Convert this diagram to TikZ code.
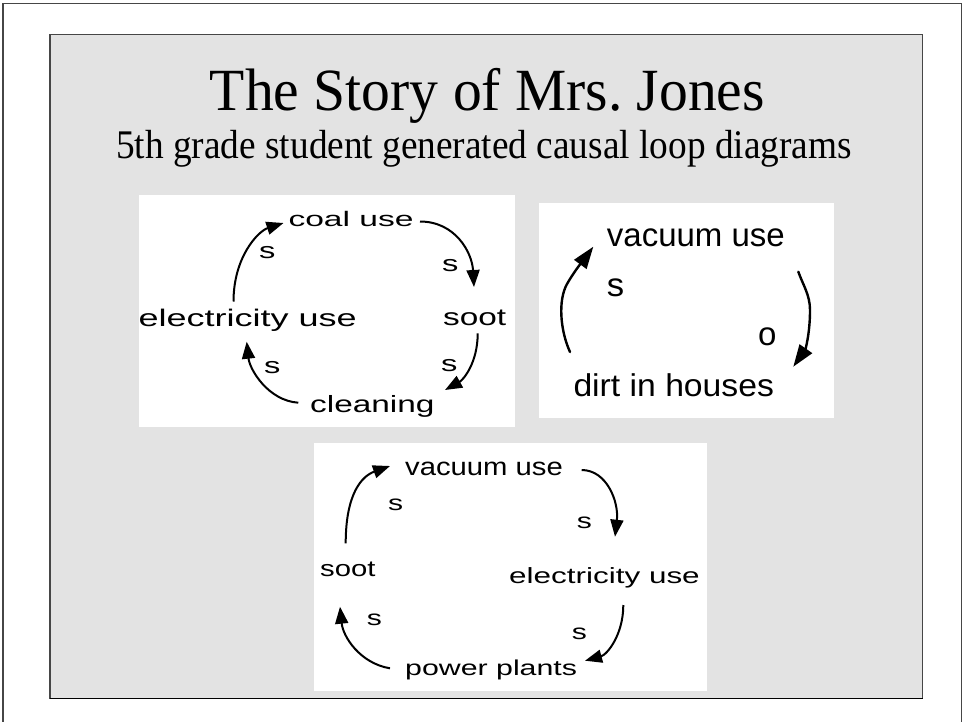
\documentclass[tikz,border=0pt]{standalone}
\usepackage{fontspec}
\usepackage{graphicx}
\setmainfont{Liberation Serif}
% sans face for the three hand-made loop diagrams
\newfontfamily\loopfont{Liberation Sans}
\usetikzlibrary{arrows.meta}
\definecolor{panelgray}{RGB}{227,227,227}
\definecolor{edgegray}{RGB}{70,70,70}
\newcommand\lsize[1]{\fontsize{#1}{#1}\selectfont}
% horizontally widened label text
\newcommand\widen[2]{\scalebox{#1}[1]{#2}}

\begin{document}
\begin{tikzpicture}[x=1pt,y=-1pt,
  lbl/.style={inner sep=0pt, anchor=base west},
  ttl/.style={inner sep=0pt, anchor=base},
  board/.style={fill=white, draw=none},
  linkA/.style={line width=2pt, -{Triangle[length=17pt,width=13pt]}},
  linkB/.style={line width=2.4pt, line cap=round, -{Triangle[length=22pt,width=15pt]}},
  linkC/.style={line width=2pt, -{Triangle[length=17pt,width=13pt]}}]

\useasboundingbox (0,0) rectangle (963,721);

% page frame
\draw[edgegray, line width=1.5pt] (3,725) -- (3,3.5) -- (961.5,3.5) -- (961.5,725);

% slide panel
\fill[panelgray] (50,34.5) rectangle (922.5,698.5);
\draw[edgegray, line width=1.6pt] (50,34.5) rectangle (922.5,698.5);
\draw[black, line width=1pt] (50,698.8) -- (922.5,698.8);

% titles
\node[ttl, font=\lsize{57.6}] (title) at (487.4,110) {\scalebox{1}[1.04]{The Story of Mrs.\ Jones}};
\node[ttl, font=\lsize{37.3}] (subtitle) at (484,158.3) {\scalebox{1}[1.09]{5th grade student generated causal loop diagrams}};

% white boards
\fill[board] (138.7,194.7) rectangle (515,427);
\fill[board] (539,202.7) rectangle (834.3,418);
\fill[board] (314,442.7) rectangle (707,691);

% ---------- loop 1 ----------
\node[lbl, font=\loopfont\lsize{21}]   (coal)  at (288.3,226)   {\widen{1.6}{coal use}};
\node[lbl, font=\loopfont\lsize{24}]   (elec1) at (138.5,326.7) {\widen{1.5}{electricity use}};
\node[lbl, font=\loopfont\lsize{24}]   (soot1) at (443,325)     {\widen{1.39}{soot}};
\node[lbl, font=\loopfont\lsize{23.5}] (clean) at (310,412.7)   {\widen{1.42}{cleaning}};
\node[lbl, font=\loopfont\lsize{22.5}] (s1a) at (259,258.3) {\widen{1.45}{s}};
\node[lbl, font=\loopfont\lsize{22.5}] (s1b) at (442,271.7) {\widen{1.45}{s}};
\node[lbl, font=\loopfont\lsize{22.5}] (s1c) at (264,373)   {\widen{1.45}{s}};
\node[lbl, font=\loopfont\lsize{22.5}] (s1d) at (441,371.7) {\widen{1.45}{s}};

\coordinate (a1s) at (233.5,301.5); \coordinate (a1e) at (283.5,223);
\coordinate (a2s) at (420,221.5);   \coordinate (a2e) at (474,287);
\coordinate (a3s) at (477.7,333.3); \coordinate (a3e) at (445,390);
\coordinate (a4s) at (298.3,402.7); \coordinate (a4e) at (246.7,341.7);

\draw[linkA] (a1s) .. controls +(0,-45) and +(-25,8) .. (a1e);
\draw[linkA] (a2s) .. controls +(35,0) and +(-2,-35) .. (a2e);
\draw[linkA] (a3s) .. controls +(0,30) and +(18,-10) .. (a3e);
\draw[linkA] (a4s) .. controls +(-30,-2) and +(3,28) .. (a4e);

% ---------- loop 2 ----------
\node[lbl, font=\loopfont\lsize{33}]   (vac2) at (606.7,246.7) {vacuum use};
\node[lbl, font=\loopfont\lsize{31.5}] (dirt) at (573.3,396.7) {\widen{1.07}{dirt in houses}};
\node[lbl, font=\loopfont\lsize{33}]   (s2) at (606.7,296.7) {\widen{1.05}{s}};
\node[lbl, font=\loopfont\lsize{33}]   (o2) at (758,345) {o};

\coordinate (b1s) at (570,352);   \coordinate (b1m) at (567,284);   \coordinate (b1e) at (593.3,246.7);
\coordinate (b2s) at (798.3,271.7); \coordinate (b2m) at (810,310); \coordinate (b2e) at (793.3,366.7);

\draw[linkB] (b1s) .. controls (560,330) and (558,300) .. (b1m)
                   .. controls (575,270) and (585,258) .. (b1e);
\draw[linkB] (b2s) .. controls (803,285) and (810,295) .. (b2m)
                   .. controls (810,335) and (805,350) .. (b2e);

% ---------- loop 3 ----------
\node[lbl, font=\loopfont\lsize{25}]   (vac3)  at (405,475)   {\widen{1.17}{vacuum use}};
\node[lbl, font=\loopfont\lsize{22.5}] (soot3) at (320,576.7) {\widen{1.3}{soot}};
\node[lbl, font=\loopfont\lsize{22}]   (elec3) at (509,583.3) {\widen{1.43}{electricity use}};
\node[lbl, font=\loopfont\lsize{21.5}] (power) at (405,675)   {\widen{1.41}{power plants}};
\node[lbl, font=\loopfont\lsize{21.5}] (s3a) at (388,510.7)   {\widen{1.4}{s}};
\node[lbl, font=\loopfont\lsize{21.5}] (s3b) at (576.7,528.3) {\widen{1.4}{s}};
\node[lbl, font=\loopfont\lsize{21.5}] (s3c) at (366.7,625)   {\widen{1.4}{s}};
\node[lbl, font=\loopfont\lsize{21.5}] (s3d) at (571.7,639.3) {\widen{1.4}{s}};

\coordinate (c1s) at (345.7,543.3); \coordinate (c1e) at (390,466);
\coordinate (c2s) at (581.7,470);   \coordinate (c2e) at (615,536.7);
\coordinate (c3s) at (623.3,605);   \coordinate (c3e) at (585,660.7);
\coordinate (c4s) at (390,668.3);   \coordinate (c4e) at (340,606.7);

\draw[linkC] (c1s) .. controls +(0,-50) and +(-28,10) .. (c1e);
\draw[linkC] (c2s) .. controls +(25,0) and +(4,-35) .. (c2e);
\draw[linkC] (c3s) .. controls +(0,30) and +(22,-6) .. (c3e);
\draw[linkC] (c4s) .. controls +(-30,-5) and +(3,30) .. (c4e);

\end{tikzpicture}
\end{document}
